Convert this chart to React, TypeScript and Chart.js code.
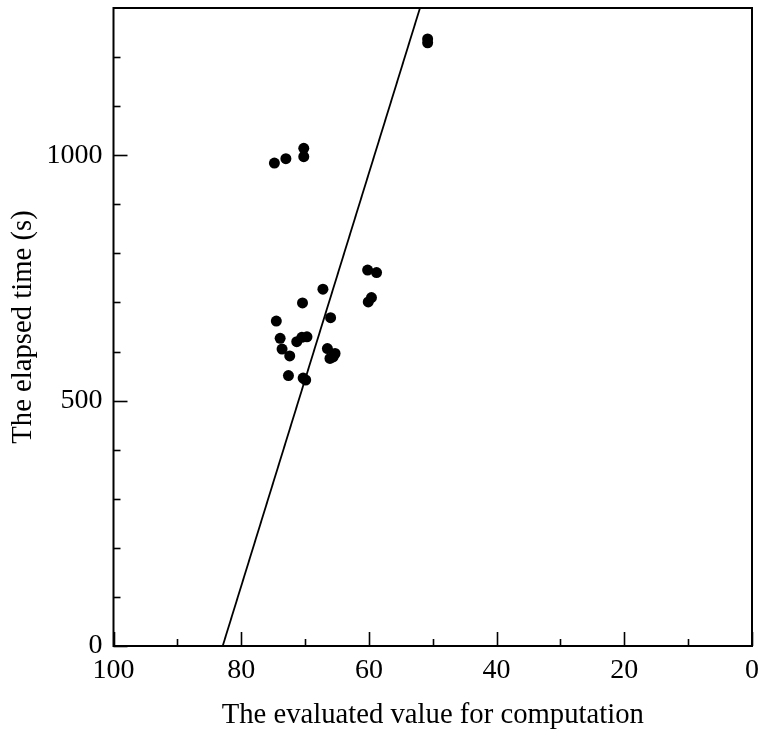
import React, { useEffect, useRef } from "react";
import { Chart, registerables } from "chart.js";

Chart.register(...registerables);

// Evaluated value (x) and elapsed time in seconds (y)
const evalValues = [
  50.8, 50.8,
  74.8, 73.0, 70.2, 70.2,
  60.2, 58.8, 67.2, 59.6, 60.1, 70.4,
  74.5, 66.0, 73.9, 69.7, 70.5, 71.3,
  73.6, 72.4, 66.5, 65.3, 66.1, 65.6,
  72.6, 70.3, 69.9,
];
const elapsedTimes = [
  1237, 1229,
  984, 993, 1014, 997,
  766, 761, 727, 710, 701, 699,
  662, 669, 627, 630, 629, 620,
  605, 591, 606, 596, 586, 589,
  551, 546, 542,
];

// Fitted line endpoints
const lineX = [82.9, 52.0];
const lineY = [0, 1300];

const xMajorTicks = [0, 20, 40, 60, 80, 100];
const xMinorTicks = [10, 30, 50, 70, 90];
const yMajorTicks = [0, 500, 1000];
const yMinorTicks = [100, 200, 300, 400, 600, 700, 800, 900, 1100, 1200];

const xTitle = "The evaluated value for computation";
const yTitle = "The elapsed time (s)";

const FONT = "'Liberation Serif', 'Times New Roman', serif";

const framePlugin = {
  id: "frame",
  afterDatasetsDraw(chart: any) {
    const { ctx, chartArea, scales } = chart;
    const { left, right, top, bottom } = chartArea;
    ctx.save();
    ctx.strokeStyle = "#000";
    ctx.lineWidth = 2;
    ctx.strokeRect(left, top, right - left, bottom - top);
    ctx.lineWidth = 1.6;
    const xs = scales.x;
    const ys = scales.y;
    const drawX = (v: number, len: number) => {
      const px = Math.round(xs.getPixelForValue(v)) + 0.5;
      ctx.beginPath();
      ctx.moveTo(px, bottom);
      ctx.lineTo(px, bottom - len);
      ctx.stroke();
    };
    const drawY = (v: number, len: number) => {
      const py = Math.round(ys.getPixelForValue(v)) + 0.5;
      ctx.beginPath();
      ctx.moveTo(left, py);
      ctx.lineTo(left + len, py);
      ctx.stroke();
    };
    xMajorTicks.forEach((v) => drawX(v, 14));
    xMinorTicks.forEach((v) => drawX(v, 7));
    yMajorTicks.forEach((v) => drawY(v, 14));
    yMinorTicks.forEach((v) => drawY(v, 7));
    ctx.restore();
  },
};

export default function App() {
  const ref = useRef<HTMLCanvasElement | null>(null);
  useEffect(() => {
    if (!ref.current) return;
    const points = evalValues.map((x, i) => ({ x, y: elapsedTimes[i] }));
    const line = lineX.map((x, i) => ({ x, y: lineY[i] }));
    const chart = new Chart(ref.current, {
      type: "scatter",
      data: {
        datasets: [
          {
            type: "line",
            data: line,
            borderColor: "#000",
            borderWidth: 1.8,
            pointRadius: 0,
            fill: false,
          } as any,
          {
            data: points,
            backgroundColor: "#000",
            borderColor: "#000",
            pointRadius: 5.5,
            borderWidth: 0,
          },
        ],
      },
      options: {
        responsive: false,
        animation: false,
        layout: { padding: { top: 8, right: 10, left: 0, bottom: 0 } },
        plugins: { legend: { display: false }, tooltip: { enabled: false } },
        scales: {
          x: {
            type: "linear",
            reverse: true,
            min: 0,
            max: 100,
            grid: { display: false, drawTicks: false },
            border: { display: false },
            afterBuildTicks: (s: any) => {
              s.ticks = xMajorTicks.map((v) => ({ value: v }));
            },
            afterFit: (s: any) => {
              s.height = 87;
              s.paddingLeft = 0;
              s.paddingRight = 0;
            },
            ticks: {
              color: "#000",
              padding: 8,
              maxRotation: 0,
              callback: (v: any) => String(v),
              font: { family: FONT, size: 28 },
            },
            title: {
              display: true,
              text: xTitle,
              color: "#000",
              padding: { top: 0, bottom: 0 },
              font: { family: FONT, size: 28.7 },
            },
          },
          y: {
            type: "linear",
            min: 0,
            max: 1300,
            grid: { display: false, drawTicks: false },
            border: { display: false },
            afterBuildTicks: (s: any) => {
              s.ticks = yMajorTicks.map((v) => ({ value: v }));
            },
            afterFit: (s: any) => {
              s.width = 113.5;
              s.paddingTop = 0;
              s.paddingBottom = 0;
            },
            ticks: {
              color: "#000",
              padding: 11,
              callback: (v: any) => String(v),
              font: { family: FONT, size: 28 },
            },
            title: {
              display: true,
              text: yTitle,
              color: "#000",
              padding: { top: 6, bottom: 0 },
              font: { family: FONT, size: 28.7 },
            },
          },
        },
      },
      plugins: [framePlugin],
    });
    return () => chart.destroy();
  }, []);
  return (
    <div style={{ position: "absolute", left: 0, top: 0, width: 762, height: 733, background: "#fff" }}>
      <canvas ref={ref} width={762} height={733} />
    </div>
  );
}
